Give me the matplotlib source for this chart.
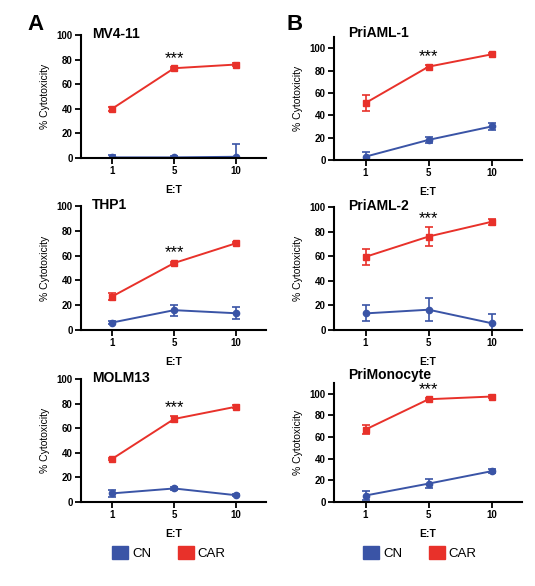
import matplotlib
matplotlib.use("Agg")
import matplotlib.pyplot as plt
from matplotlib.patches import Patch

plt.rcParams["font.family"] = ["Liberation Sans", "DejaVu Sans"]

ratios = ["1", "5", "10"]
blue = "#3a54a6"
red = "#e8312a"

titles_a = ["MV4-11", "THP1", "MOLM13"]
titles_b = ["PriAML-1", "PriAML-2", "PriMonocyte"]

car_mean = {
    "MV4-11": [40, 73, 76],
    "THP1": [27, 54, 70],
    "MOLM13": [35, 67.5, 77.5],
    "PriAML-1": [51, 83.5, 94.5],
    "PriAML-2": [59.5, 76, 88],
    "PriMonocyte": [67, 95, 97.5],
}
car_err = {
    "MV4-11": [1.5, 1, 1],
    "THP1": [3, 1, 1],
    "MOLM13": [1, 2.5, 1],
    "PriAML-1": [7, 1.5, 1],
    "PriAML-2": [6.5, 7.5, 2.5],
    "PriMonocyte": [4, 1, 1],
}
cn_mean = {
    "MV4-11": [0.5, 0.5, 1],
    "THP1": [6, 16, 13.5],
    "MOLM13": [7, 11, 5.5],
    "PriAML-1": [3, 18, 30],
    "PriAML-2": [13.5, 16.5, 5.5],
    "PriMonocyte": [6, 17, 28.5],
}
cn_err = {
    "MV4-11": [2, 1, 10],
    "THP1": [1, 4.5, 5],
    "MOLM13": [3, 1.5, 1],
    "PriAML-1": [4.5, 3, 3.5],
    "PriAML-2": [6.5, 9.5, 7.5],
    "PriMonocyte": [4, 4, 2],
}
ymax = {
    "MV4-11": 100, "THP1": 100, "MOLM13": 100,
    "PriAML-1": 110, "PriAML-2": 100, "PriMonocyte": 110,
}

W, H = 535, 586
fig = plt.figure(figsize=(W / 100, H / 100), dpi=100)


def box(left, right, top, bottom):
    return [left / W, 1 - bottom / H, (right - left) / W, (bottom - top) / H]


def panel(rect, name, title_x, title_y):
    ax = fig.add_axes(rect)
    x = range(len(ratios))
    ax.errorbar(x, cn_mean[name], yerr=cn_err[name], color=blue, marker="o",
                markersize=4.5, lw=1.4, capsize=3, elinewidth=1.2, capthick=1.2)
    ax.errorbar(x, car_mean[name], yerr=car_err[name], color=red, marker="s",
                markersize=4.5, lw=1.4, capsize=3, elinewidth=1.2, capthick=1.2)
    ax.set_xlim(-0.5, 2.48)
    ax.set_ylim(0, ymax[name])
    ax.set_yticks([0, 20, 40, 60, 80, 100])
    ax.set_xticks(list(x))
    ax.set_xticklabels(ratios)
    for s in ["top", "right"]:
        ax.spines[s].set_visible(False)
    for s in ["left", "bottom"]:
        ax.spines[s].set_linewidth(1.5)
    ax.tick_params(width=1.3, length=4, labelsize=7, pad=2)
    for lab in ax.get_xticklabels() + ax.get_yticklabels():
        lab.set_fontweight("bold")
    ax.set_ylabel("% Cytotoxicity", fontsize=7.5, labelpad=5)
    ax.set_xlabel("E:T", fontsize=7.5, fontweight="bold", labelpad=6)
    fig.text(title_x / W, 1 - title_y / H, name, fontsize=10,
             fontweight="bold", va="center", ha="left")
    # significance stars just above the E:T = 5 error bar
    ax.text(1, car_mean[name][1] + car_err[name][1] + 1, "***",
            ha="center", va="bottom", fontsize=12)
    return ax


rows_a = [(35, 158, 34), (206, 330, 205), (379, 502, 378)]
rows_b = [(37, 160, 33), (207, 330, 206), (383, 502, 375)]
for (top, bottom, ty), name in zip(rows_a, titles_a):
    panel(box(81, 266, top, bottom), name, 92, ty)
for (top, bottom, ty), name in zip(rows_b, titles_b):
    panel(box(334, 522, top, bottom), name, 348, ty)

fig.text(27 / W, 1 - 25 / H, "A", fontsize=16, fontweight="bold", va="center")
fig.text(286 / W, 1 - 25 / H, "B", fontsize=16, fontweight="bold", va="center")

handles = [Patch(color=blue, label="CN"), Patch(color=red, label="CAR")]
for cx in [169, 420]:
    fig.legend(handles=handles, loc="center", bbox_to_anchor=(cx / W, 1 - 553 / H),
               ncol=2, frameon=False, fontsize=9.5, handlelength=1.2,
               handleheight=1.2, handletextpad=0.3, columnspacing=2.0)

fig.savefig("out.png", dpi=100)
